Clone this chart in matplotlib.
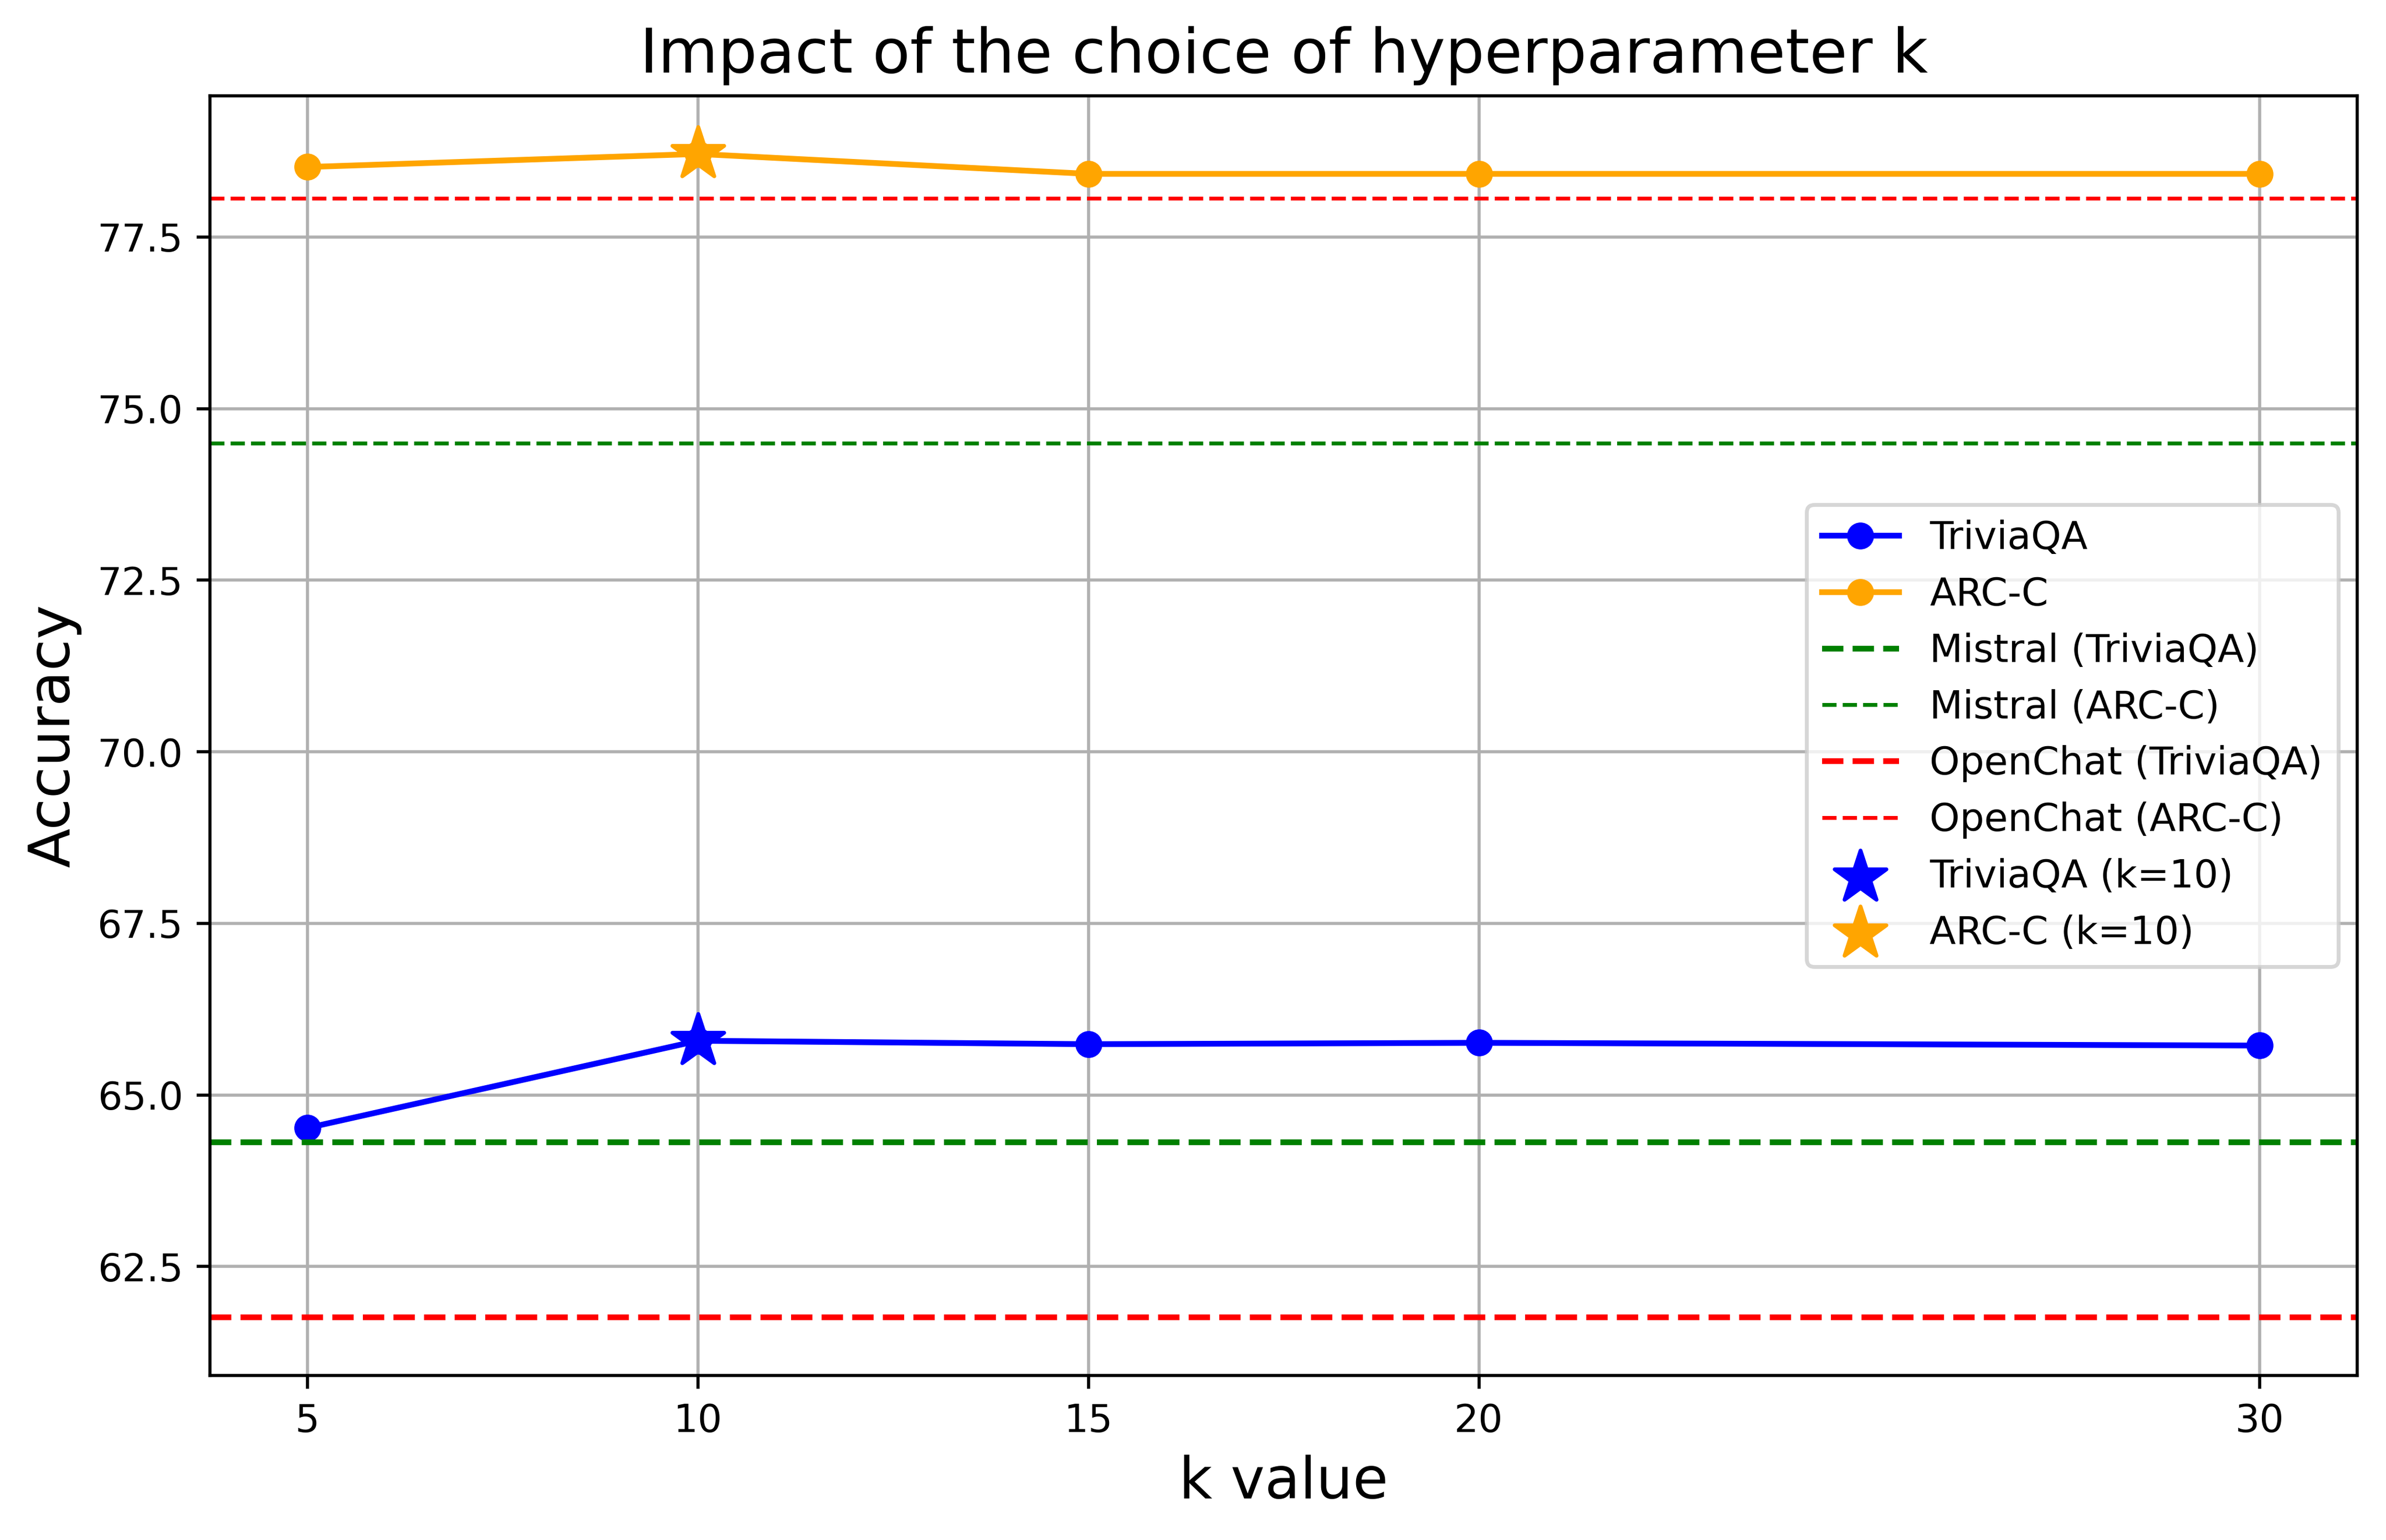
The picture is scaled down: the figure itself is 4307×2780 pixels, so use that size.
import matplotlib
matplotlib.use("Agg")
import matplotlib.pyplot as plt

k_values = [5, 10, 15, 20, 30]
triviaqa = [64.52, 65.79, 65.74, 65.76, 65.72]
arc_c = [78.52, 78.71, 78.42, 78.42, 78.42]
mistral_triviaqa = 64.31
mistral_arc_c = 74.50
openchat_triviaqa = 61.76
openchat_arc_c = 78.06
best_k = 10
best_triviaqa = 65.79
best_arc_c = 78.71

DPI = 500
fig = plt.figure(figsize=(4307/DPI, 2780/DPI), dpi=DPI)
ax = fig.add_axes([0.088, 0.1068, 0.900, 0.831])

ax.plot(k_values, triviaqa, marker='o', color='blue', linewidth=1.5, label='TriviaQA')
ax.plot(k_values, arc_c, marker='o', color='orange', linewidth=1.5, label='ARC-C')
ax.axhline(mistral_triviaqa, color='green', linestyle='--', linewidth=1.5, label='Mistral (TriviaQA)')
ax.axhline(mistral_arc_c, color='green', linestyle='--', linewidth=1.0, label='Mistral (ARC-C)')
ax.axhline(openchat_triviaqa, color='red', linestyle='--', linewidth=1.5, label='OpenChat (TriviaQA)')
ax.axhline(openchat_arc_c, color='red', linestyle='--', linewidth=1.0, label='OpenChat (ARC-C)')
ax.scatter([best_k], [best_triviaqa], marker='*', s=200, color='blue', zorder=5, label='TriviaQA (k=10)')
ax.scatter([best_k], [best_arc_c], marker='*', s=200, color='orange', zorder=5, label='ARC-C (k=10)')

ax.set_xticks(k_values)
ax.tick_params(labelsize=10)
ax.set_title('Impact of the choice of hyperparameter k', fontsize=16)
ax.set_xlabel('k value', fontsize=15)
ax.set_ylabel('Accuracy', fontsize=15)
ax.grid(True)
ax.legend(loc='center right', fontsize=10)

fig.savefig('out.png', dpi=DPI)
